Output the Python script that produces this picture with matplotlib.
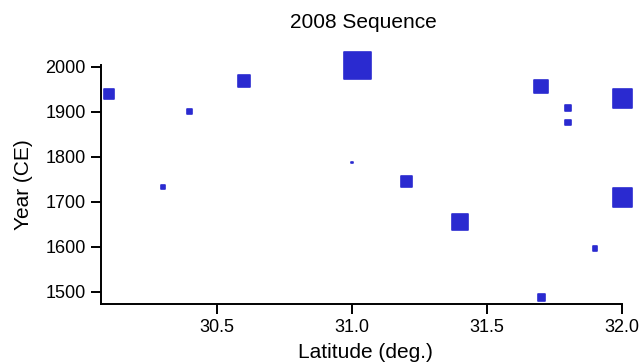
import matplotlib.pyplot as plt

plt.rcParams['font.family'] = ['Liberation Sans', 'DejaVu Sans']

# latitude (deg.), year (CE), marker side in pixels
latitude = [30.10, 30.40, 30.30, 30.60, 31.02, 31.00, 31.20, 31.70,
            31.80, 31.80, 32.00, 32.00, 31.40, 31.90, 31.70]
year = [1940, 1900, 1733, 1969, 2004, 1787, 1745, 1956,
        1909, 1876, 1930, 1710, 1656, 1596, 1487]
side_px = [9.5, 5, 4.5, 12.5, 27, 1.5, 11, 13.5, 5.3, 5.3, 19, 19, 16, 4.5, 7]

fig = plt.figure(figsize=(6.42, 3.64), dpi=100)
ax = fig.add_axes([0.157, 0.165, 0.812, 0.656])

sizes = [(p * 0.72) ** 2 for p in side_px]
sc = ax.scatter(latitude, year, s=sizes, marker='s', color='#2a2ad0',
                edgecolors='#2a2ad0', linewidths=1.2, clip_on=False, zorder=3)
sc.set_joinstyle('round')

ax.set_xlim(30.07, 32.0)
ax.set_ylim(1473, 2004)
ax.set_xticks([30.5, 31.0, 31.5, 32.0])
ax.set_xticklabels(['30.5', '31.0', '31.5', '32.0'])
ax.set_yticks([1500, 1600, 1700, 1800, 1900, 2000])

for side in ['top', 'right']:
    ax.spines[side].set_visible(False)
for side in ['left', 'bottom']:
    ax.spines[side].set_linewidth(1.4)
ax.tick_params(direction='out', length=7, width=1.4, labelsize=13, pad=4)

ax.set_xlabel('Latitude (deg.)', fontsize=15, va='center')
ax.set_ylabel('Year (CE)', fontsize=15, va='center')
ax.xaxis.set_label_coords(0.507, -0.205)
ax.yaxis.set_label_coords(-0.148, 0.5)
fig.text(363 / 642, 1 - 23 / 364, '2008 Sequence', ha='center', va='center', fontsize=15)

fig.savefig('out.png', dpi=100)
